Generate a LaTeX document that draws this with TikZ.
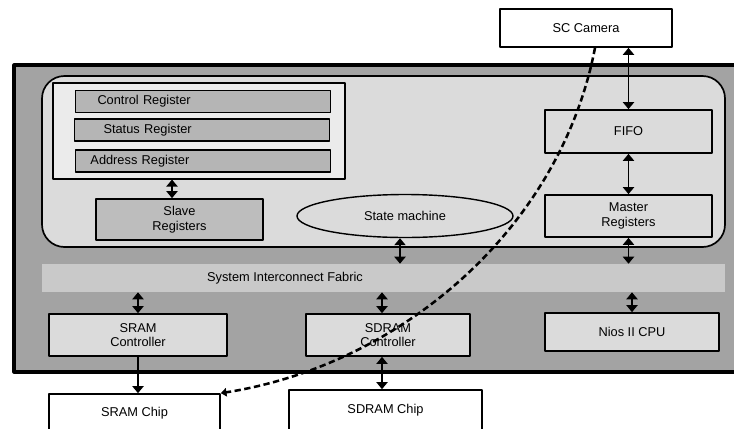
\documentclass[tikz,border=0pt]{standalone}
\usepackage{fontspec}
\setmainfont{Liberation Sans}
\usetikzlibrary{arrows.meta,shapes.geometric}
\definecolor{outergray}{gray}{0.64}
\definecolor{innergray}{gray}{0.86}
\definecolor{bandgray}{gray}{0.79}
\definecolor{bargray}{gray}{0.71}
\definecolor{slavegray}{gray}{0.74}
\definecolor{ctrlgray}{gray}{0.86}
\tikzset{
  blk/.style 2 args={draw, line width=1.2pt, minimum width=#1*0.025cm, minimum height=#2*0.025cm, align=center, inner sep=0pt},
  regbar/.style={draw, line width=1.3pt, fill=bargray, minimum height=22*0.025cm, minimum width=255*0.025cm, inner xsep=22*0.025cm, text width=211*0.025cm, align=left, inner ysep=0pt},
  link/.style={line width=1pt, {Triangle[width=8pt,length=5pt]}-{Triangle[width=8pt,length=5pt]}},
}
\begin{document}
\begin{tikzpicture}[x=0.025cm, y=-0.025cm, font=\fontsize{9.1}{10.5}\selectfont, line join=round]
	\clip (0,0) rectangle (734,428);
	% outer system box
	\draw[line width=2.2pt, fill=outergray] (14,65) rectangle (745,372);
	\draw[line width=1.2pt, fill=innergray, rounded corners=16] (42,76) rectangle (725,247);
	\node[fill=bandgray, minimum width=683*0.025cm, minimum height=28*0.025cm] (fabric) at (383.5,278) {};
	\node at (285,278) {System Interconnect Fabric};
	% register file
	\node[draw, line width=0.8pt, fill=black!8, minimum width=292*0.025cm, minimum height=96*0.025cm] (regs) at (199,131) {};
	\node[regbar] (ctrlreg) at (203,101.5) {Control Register};
	\node[regbar] (statreg) at (202,130) {\hspace*{5pt}Status Register};
	\node[regbar] (addrreg) at (203,161) {\hspace*{-5pt}Address Register};
	\node[blk={167}{41}, fill=slavegray] (slave) at (179.5,219.5) {Slave\\Registers};
	\node[draw, line width=1pt, ellipse, fill=innergray, minimum width=216*0.025cm, minimum height=43*0.025cm] (fsm) at (405,216) {State machine};
	\node[blk={167}{43}, fill=ctrlgray] (fifo) at (628.5,131.5) {FIFO};
	\node[blk={167}{42}, fill=ctrlgray] (master) at (628.5,216) {Master\\Registers};
	\node[blk={172}{38}, fill=white] (cam) at (586,28) {SC Camera};
	% controllers and chips
	\node[blk={178}{42}, fill=ctrlgray] (sramc) at (138,335) {SRAM\\Controller};
	\node[blk={164}{42}, fill=ctrlgray] (sdramc) at (388,335) {SDRAM\\Controller};
	\node[blk={174}{38}, fill=ctrlgray] (nios) at (632,332) {Nios II CPU};
	\node[blk={171}{38}, fill=white] (sramchip) at (134.5,413) {SRAM Chip};
	\node[blk={193}{40}, fill=white] (sdramchip) at (385.5,410) {SDRAM Chip};
	% connectors
	\draw[link] (regs.south -| 172,0) -- (slave.north -| 172,0);
	\draw[link] (cam.south -| fifo.north) -- (fifo.north);
	\draw[link] (fifo.south) -- (master.north);
	\draw[link] (fsm.south -| 400,0) -- (fabric.north -| 400,0);
	\draw[link] (master.south) -- (master.south |- fabric.north);
	\draw[link] (fabric.south -| sramc.north) -- (sramc.north);
	\draw[link] (fabric.south -| 382,0) -- (sdramc.north -| 382,0);
	\draw[link] (fabric.south -| nios.north) -- (nios.north);
	\draw[line width=1pt, -{Triangle[width=8pt,length=5pt]}] (sramc.south) -- (sramc.south |- sramchip.north);
	\draw[link] (sdramc.south -| 382,0) -- (sdramchip.north -| 382,0);
	\draw[line width=1.8pt, dash pattern=on 4.5pt off 2.5pt, -{Triangle[width=6pt,length=4pt]}] (cam.south -| 595,0) .. controls (560,230) and (400,365) .. (sramchip.north east);
\end{tikzpicture}
\end{document}
